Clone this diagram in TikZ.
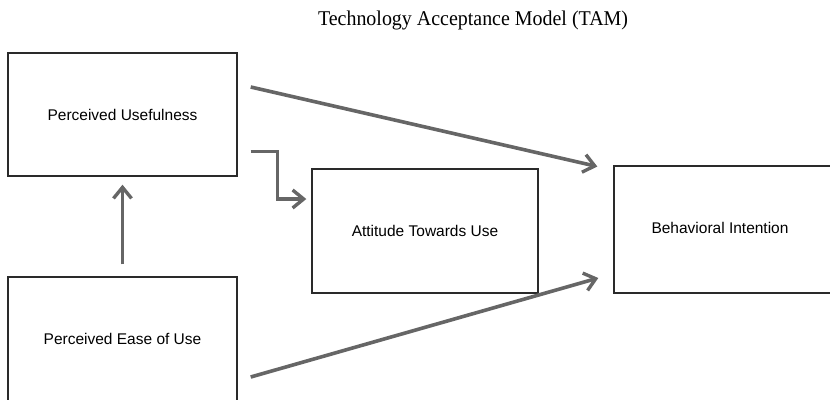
\documentclass[tikz,border=0pt]{standalone}
\usepackage{fontspec}
\setmainfont{Liberation Sans}
\newfontfamily\titlefont{Liberation Serif}
\usetikzlibrary{arrows.meta,calc}
\definecolor{arrgray}{HTML}{666666}
\definecolor{boxline}{HTML}{2A2A2A}
\tikzset{
  boxtext/.style={font=\fontsize{15.5}{18}\selectfont},
  box/.style={draw=boxline, line width=1.4pt, fill=white, inner sep=0pt, boxtext},
  arr/.style={draw=arrgray, line width=3.6pt, -{Straight Barb[length=11pt,width=18pt,line width=3.4pt]}},
}
\begin{document}
\begin{tikzpicture}[x=1pt,y=-1pt]
\useasboundingbox (0,0) rectangle (830,399);
\node[font=\titlefont\fontsize{21}{24}\selectfont] (title) at (473,20) {\scalebox{0.95}[1]{Technology Acceptance Model (TAM)}};
\node[box, minimum width=229pt, minimum height=123pt] (PU) at (122.5,114.5) {Perceived Usefulness};
\node[box, minimum width=229pt, minimum height=124pt] (PEOU) at (122.5,339) {Perceived Ease of Use};
\node[box, minimum width=226pt, minimum height=124pt] (ATU) at (425,231) {Attitude Towards Use};
\node[box, minimum width=226pt, minimum height=127pt] (BI) at (727,229.5) {};
\node[boxtext] (BItext) at (720,228) {Behavioral Intention};
\draw[arr] ($(PU.east)+(13,-27.5)$) -- ($(BI.west)+(-16,-63)$);
\draw[arr] ($(PU.east)+(13,37)$) -| ($(ATU.west)+(-34,-32)$) -- ($(ATU.west)+(-5,-32)$);
\draw[arr] ([yshift=12pt]PEOU.north) -- ([yshift=-8pt]PU.south);
\draw[arr] ($(PEOU.east)+(13,38)$) -- ($(BI.west)+(-15,48.5)$);
\end{tikzpicture}
\end{document}
